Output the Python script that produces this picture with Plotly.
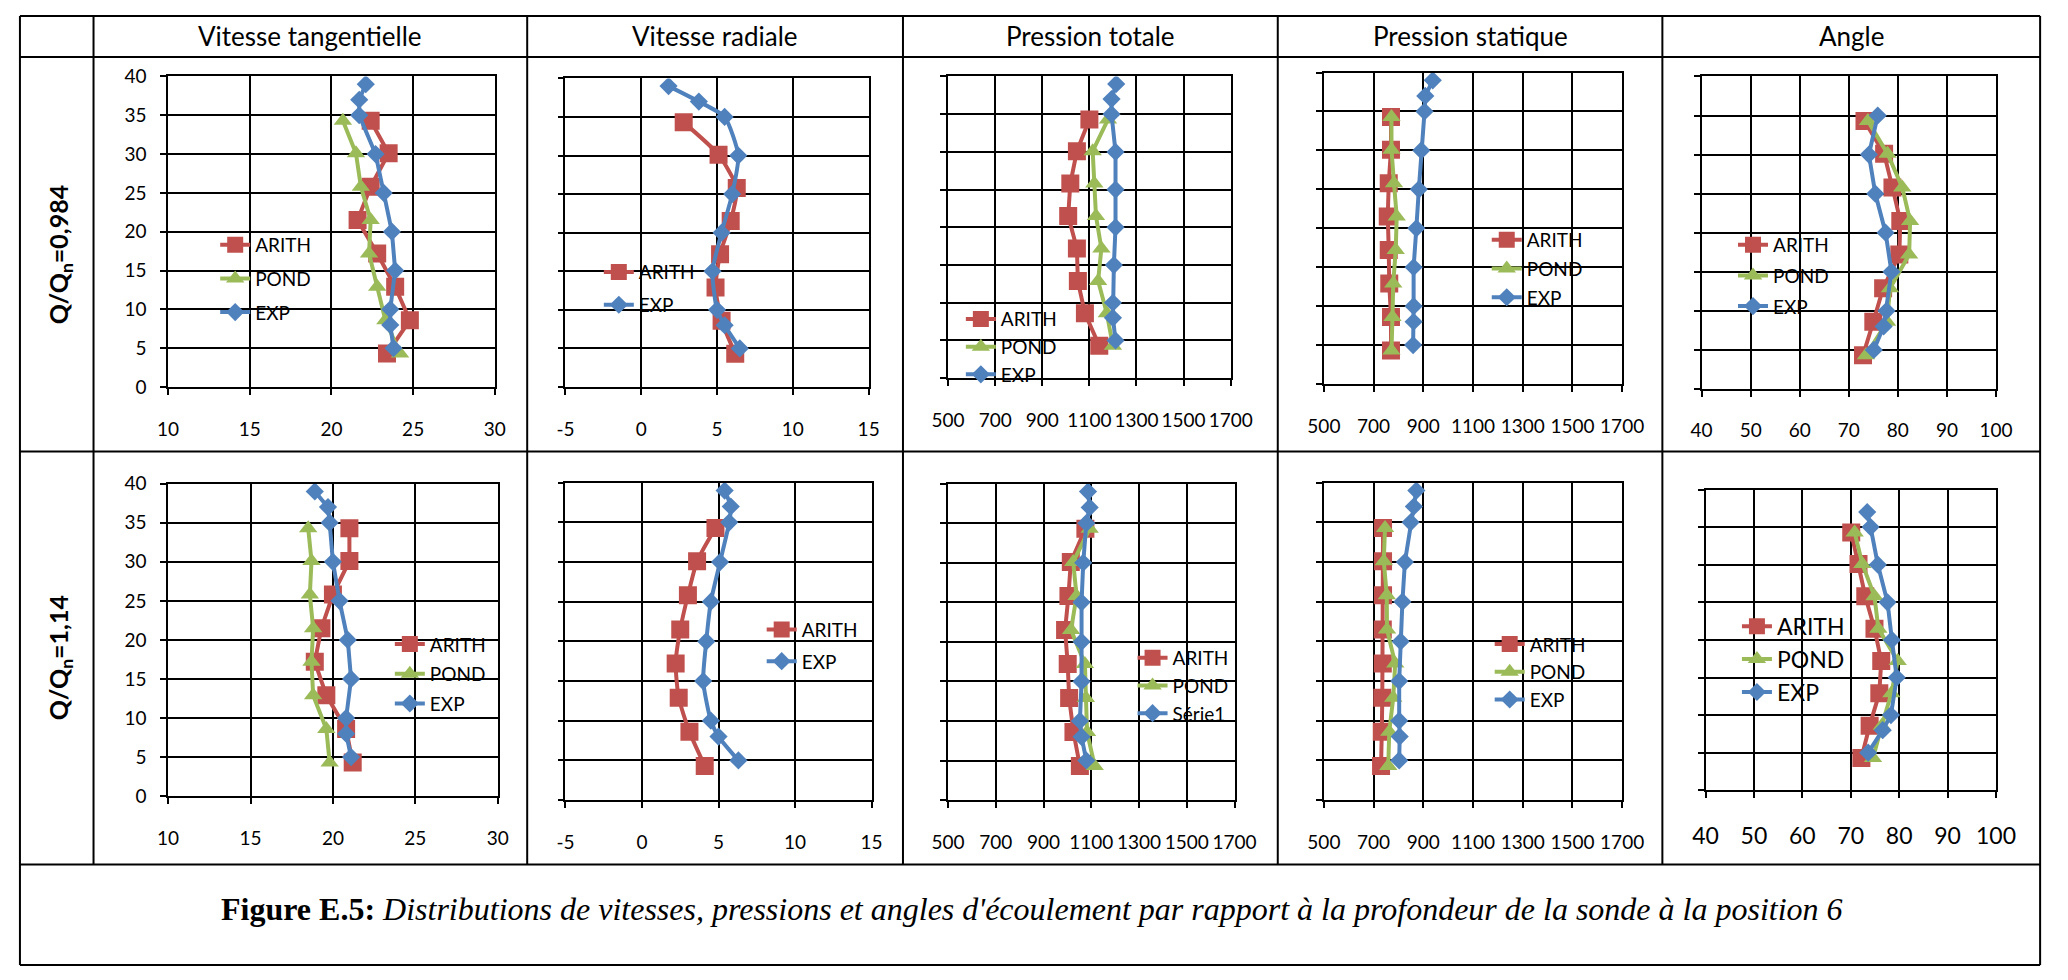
import plotly.graph_objects as go

W, H = 2068, 980
FONT = "Lato"

# ---------------- data ----------------
DEPTH_MEAN = [34.3, 30.1, 25.8, 21.5, 17.2, 12.9, 8.6, 4.3]
DEPTH_EXP = [39, 37, 35, 30, 25, 20, 15, 10, 8, 5]
DEPTH_EXP_ANGLE_1 = [35, 30, 25, 20, 15, 10, 8, 5]
DEPTH_EXP_ANGLE_2 = [37, 35, 30, 25, 20, 15, 10, 8, 5]

# Q/Qn = 0,984
VT1_ARITH = [22.4, 23.5, 22.4, 21.6, 22.8, 23.9, 24.8, 23.4]
VT1_POND = [20.7, 21.5, 21.8, 22.4, 22.3, 22.8, 23.3, 24.2]
VT1_EXP = [22.1, 21.7, 21.7, 22.7, 23.2, 23.7, 23.9, 23.6, 23.6, 23.8]

VR1_ARITH = [2.8, 5.1, 6.3, 5.9, 5.2, 4.9, 5.3, 6.2]
VR1_EXP = [1.8, 3.8, 5.5, 6.4, 6.0, 5.3, 4.7, 5.0, 5.5, 6.5]

PT1_ARITH = [1100, 1047, 1019, 1010, 1047, 1051, 1081, 1142]
PT1_POND = [1179, 1114, 1121, 1128, 1151, 1137, 1174, 1200]
PT1_EXP = [1214, 1194, 1194, 1211, 1211, 1211, 1204, 1200, 1200, 1211]

PS1_ARITH = [770, 770, 761, 757, 761, 763, 770, 770]
PS1_POND = [772, 772, 782, 793, 789, 779, 776, 772]
PS1_EXP = [938, 908, 905, 892, 882, 872, 861, 861, 861, 859]

A1_ARITH = [73.2, 77.2, 78.9, 80.5, 80.3, 77.0, 75.0, 72.9]
A1_POND = [73.9, 77.9, 80.9, 82.5, 82.3, 78.4, 77.8, 73.5]
A1_EXP = [75.9, 74.1, 75.4, 77.5, 78.7, 77.7, 77.1, 75.1]

# Q/Qn = 1,14
VT2_ARITH = [21.0, 21.0, 20.0, 19.3, 18.9, 19.6, 20.8, 21.2]
VT2_POND = [18.5, 18.7, 18.6, 18.8, 18.7, 18.8, 19.6, 19.8]
VT2_EXP = [18.9, 19.7, 19.8, 20.0, 20.4, 20.9, 21.1, 20.8, 20.8, 21.1]

VR2_ARITH = [4.8, 3.6, 3.0, 2.5, 2.2, 2.4, 3.1, 4.1]
VR2_EXP = [5.4, 5.8, 5.7, 5.1, 4.5, 4.2, 4.0, 4.5, 5.0, 6.3]

PT2_ARITH = [1075, 1014, 1004, 990, 1001, 1007, 1025, 1052]
PT2_POND = [1093, 1024, 1038, 1015, 1073, 1077, 1082, 1114]
PT2_EXP = [1086, 1093, 1079, 1066, 1059, 1059, 1059, 1052, 1059, 1079]

PS2_ARITH = [738, 738, 738, 737, 737, 735, 733, 730]
PS2_POND = [746, 741, 753, 754, 787, 779, 763, 759]
PS2_EXP = [872, 862, 849, 826, 816, 809, 803, 803, 805, 803]

A2_ARITH = [70.1, 71.6, 73.0, 74.9, 76.3, 75.9, 73.9, 72.2]
A2_POND = [70.8, 72.4, 74.9, 75.7, 79.7, 78.4, 76.4, 74.6]
A2_EXP = [73.4, 74.1, 75.6, 77.6, 78.5, 79.5, 78.3, 76.6, 73.6]

HEADERS = ["Vitesse tangentielle", "Vitesse radiale", "Pression totale",
           "Pression statique", "Angle"]
ROW_LABELS = ["Q/Q<sub>n</sub>=0,984", "Q/Q<sub>n</sub>=1,14"]
CAPTION_BOLD = "Figure E.5:"
CAPTION_ITALIC = ("Distributions de vitesses, pressions et angles d'écoulement "
                  "par rapport à la profondeur de la sonde à la position 6")

# ---------------- styles ----------------
RED, GREEN, BLUE = "#C0504D", "#9BBB59", "#4F81BD"
STYLE = {
    "ARITH": dict(color=RED, symbol="square", size=18),
    "POND": dict(color=GREEN, symbol="triangle-up", size=16),
    "EXP": dict(color=BLUE, symbol="diamond", size=14),
    "Série1": dict(color=BLUE, symbol="diamond", size=14),
}

# (series, x range, dtick, plot box px (x0,x1,y0,y1), legend (text_x, first_y, gap, font),
#  show y labels, tick font, smooth)
PANELS = [
    ([("ARITH", VT1_ARITH, DEPTH_MEAN), ("POND", VT1_POND, DEPTH_MEAN), ("EXP", VT1_EXP, DEPTH_EXP)],
     [10, 30], 5, (154, 487, 66, 384), (242, 234, 6, 19), True, 19, False),
    ([("ARITH", VR1_ARITH, DEPTH_MEAN), ("EXP", VR1_EXP, DEPTH_EXP)],
     [-5, 15], 5, (559, 868, 68, 384), (633, 262, 5, 19), False, 19, True),
    ([("ARITH", PT1_ARITH, DEPTH_MEAN), ("POND", PT1_POND, DEPTH_MEAN), ("EXP", PT1_EXP, DEPTH_EXP)],
     [500, 1700], 200, (949, 1237, 66, 375), (1002, 310, 0, 19), False, 19, False),
    ([("ARITH", PS1_ARITH, DEPTH_MEAN), ("POND", PS1_POND, DEPTH_MEAN), ("EXP", PS1_EXP, DEPTH_EXP)],
     [500, 1700], 200, (1332, 1636, 62, 381), (1538, 229, 1, 19), False, 19, False),
    ([("ARITH", A1_ARITH, DEPTH_MEAN), ("POND", A1_POND, DEPTH_MEAN), ("EXP", A1_EXP, DEPTH_EXP_ANGLE_1)],
     [40, 100], 10, (1717, 2017, 66, 386), (1789, 234, 3, 19), False, 19, False),
    ([("ARITH", VT2_ARITH, DEPTH_MEAN), ("POND", VT2_POND, DEPTH_MEAN), ("EXP", VT2_EXP, DEPTH_EXP)],
     [10, 30], 5, (154, 490, 483, 803), (420, 643, 2, 19), True, 19, False),
    ([("ARITH", VR2_ARITH, DEPTH_MEAN), ("EXP", VR2_EXP, DEPTH_EXP)],
     [-5, 15], 5, (559, 871, 482, 807), (799, 628, 4, 19), False, 19, True),
    ([("ARITH", PT2_ARITH, DEPTH_MEAN), ("POND", PT2_POND, DEPTH_MEAN), ("Série1", PT2_EXP, DEPTH_EXP)],
     [500, 1700], 200, (949, 1241, 483, 807), (1177, 657, 0, 19), False, 19, False),
    ([("ARITH", PS2_ARITH, DEPTH_MEAN), ("POND", PS2_POND, DEPTH_MEAN), ("EXP", PS2_EXP, DEPTH_EXP)],
     [500, 1700], 200, (1332, 1636, 482, 807), (1541, 643, 0, 19), False, 19, False),
    ([("ARITH", A2_ARITH, DEPTH_MEAN), ("POND", A2_POND, DEPTH_MEAN), ("EXP", A2_EXP, DEPTH_EXP_ANGLE_2)],
     [40, 100], 10, (1721, 2017, 489, 797), (1793, 622, 0, 23), False, 23, False),
]

fig = go.Figure()
layout = dict(
    width=W, height=H, margin=dict(l=0, r=0, t=0, b=0),
    paper_bgcolor="white", plot_bgcolor="white",
    font=dict(family=FONT, color="black"),
    showlegend=True,
)

for i, (series, xr, dt, box, leg, ylab, tfs, smooth) in enumerate(PANELS, start=1):
    sx = "" if i == 1 else str(i)
    lid = "legend" if i == 1 else f"legend{i}"
    for name, vals, depth in series:
        st = STYLE[name]
        fig.add_trace(go.Scatter(
            x=vals, y=depth, name=name, mode="lines+markers",
            line=dict(color=st["color"], width=4,
                      shape="spline" if smooth else "linear", smoothing=0.6),
            marker=dict(symbol=st["symbol"], size=st["size"], color=st["color"]),
            xaxis=f"x{sx}", yaxis=f"y{sx}", legend=lid,
            legendgroup=f"{lid}_{name}", showlegend=True, hoverinfo="skip",
        ))
    x0, x1, y0, y1 = box
    common = dict(showgrid=True, gridcolor="black", gridwidth=1.5,
                  showline=True, linecolor="black", linewidth=1.5, mirror=True,
                  ticks="outside", ticklen=6, tickcolor="black", tickwidth=1.5,
                  zeroline=False, fixedrange=True, tickangle=0,
                  tickfont=dict(family=FONT, size=tfs, color="black"))
    xticks = list(range(xr[0], xr[1] + 1, dt))
    yticks = list(range(0, 41, 5))
    layout[f"xaxis{sx}"] = dict(domain=[x0 / W, x1 / W], anchor=f"y{sx}",
                                range=xr, tickmode="array", tickvals=xticks,
                                ticktext=[str(v) for v in xticks],
                                ticklabelstandoff=18, **common)
    layout[f"yaxis{sx}"] = dict(domain=[1 - y1 / H, 1 - y0 / H], anchor=f"x{sx}",
                                range=[0, 40], tickmode="array", tickvals=yticks,
                                ticktext=[str(v) for v in yticks],
                                showticklabels=ylab, ticklabelstandoff=10, **common)
    tx, ty, gap, lfs = leg
    layout[lid] = dict(x=(tx - 40) / W, y=1 - (ty - 15) / H, xanchor="left", yanchor="top",
                       bgcolor="rgba(0,0,0,0)", borderwidth=0,
                       font=dict(family=FONT, size=lfs, color="black"),
                       tracegroupgap=gap, traceorder="grouped", itemwidth=30)

# ---------------- table frame ----------------
L, R, T, B = 3, 2062, 4, 976
COLS = [78, 520, 903, 1285, 1677]
ROWS = [46, 450, 873]
shapes = []
def pline(xa, ya, xb, yb):
    shapes.append(dict(type="line", xref="paper", yref="paper",
                       x0=xa / W, y0=1 - ya / H, x1=xb / W, y1=1 - yb / H,
                       line=dict(color="black", width=2)))
for yy in [T] + ROWS + [B]:
    pline(L, yy, R, yy)
for xx in [L, R]:
    pline(xx, T, xx, B)
for xx in COLS:
    pline(xx, T, xx, ROWS[-1])
layout["shapes"] = shapes

ann = []
centers = [(COLS[k] + (COLS[k + 1] if k + 1 < len(COLS) else R)) / 2 for k in range(len(COLS))]
for hx, txt in zip(centers, HEADERS):
    ann.append(dict(text=txt, x=hx / W, y=1 - 25 / H, xref="paper", yref="paper",
                    showarrow=False, xanchor="center", yanchor="middle",
                    font=dict(family=FONT, size=26, color="black")))
for ry, txt in zip([(ROWS[0] + ROWS[1]) / 2, (ROWS[1] + ROWS[2]) / 2], ROW_LABELS):
    ann.append(dict(text=f"<b>{txt}</b>", x=44 / W, y=1 - ry / H, xref="paper", yref="paper",
                    showarrow=False, textangle=-90, xanchor="center", yanchor="middle",
                    font=dict(family=FONT, size=25, color="black")))
ann.append(dict(text=f"<b>{CAPTION_BOLD}</b> <i>{CAPTION_ITALIC}</i>",
                x=1035 / W, y=1 - 919 / H, xref="paper", yref="paper",
                showarrow=False, xanchor="center", yanchor="middle",
                font=dict(family="Liberation Serif", size=32, color="black")))
layout["annotations"] = ann

fig.update_layout(**layout)
fig.write_html("out.html", config={"displayModeBar": False},
               post_script="document.body.style.margin='0px';document.body.style.overflow='hidden';")
